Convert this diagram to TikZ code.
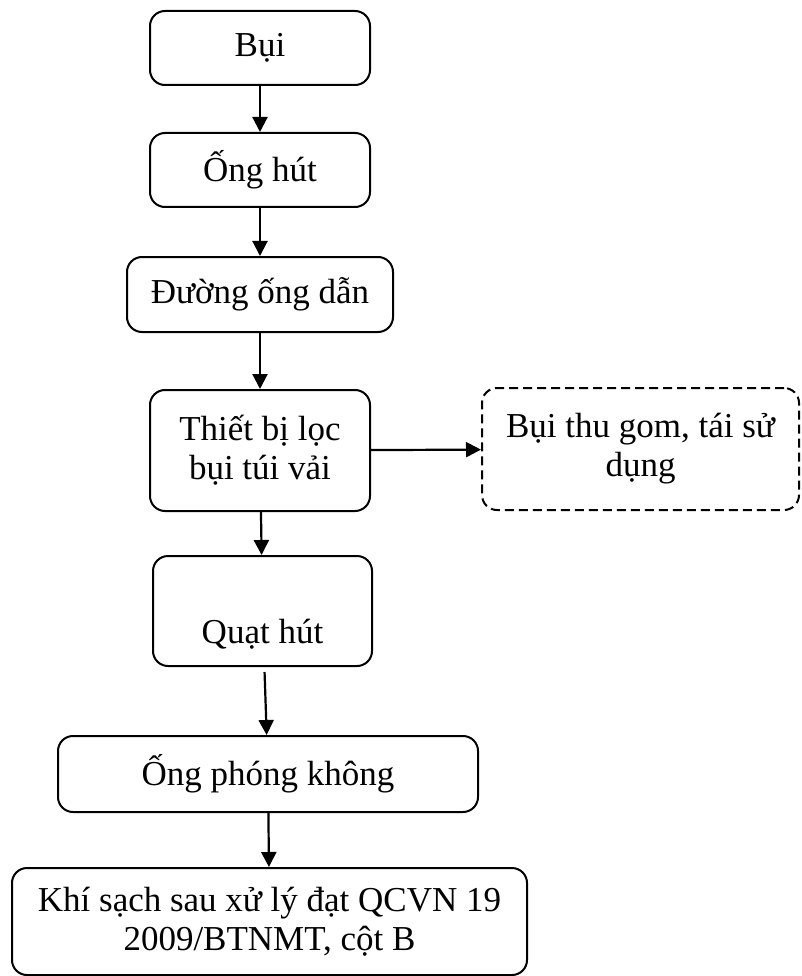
\documentclass[tikz,border=0pt]{standalone}
\usepackage{fontspec}
\setmainfont{Liberation Serif}
\usetikzlibrary{arrows.meta}

\begin{document}
\begin{tikzpicture}[x=1pt, y=-1pt,
    blk/.style={draw, line width=2pt, rounded corners=15pt, align=center, inner sep=0pt, font=\fontsize{35}{39}\selectfont},
    arr/.style={-{Triangle[length=15pt,width=15pt]}, line width=2.2pt}]
    \useasboundingbox (0,0) rectangle (801,976);

    \node (b1) at (260,48) [blk, minimum width=220, minimum height=74] {Bụi};
    \node (b2) at (260,170) [blk, minimum width=220, minimum height=74] {Ống hút};
    \node (b3) at (260,294.5) [blk, minimum width=266, minimum height=75] {Đường ống dẫn};
    \node (b4) at (260,450.5) [blk, minimum width=220, minimum height=121] {Thiết bị lọc\\bụi túi vải};
    \node (b5) at (262.5,611) [blk, minimum width=219, minimum height=110] {\raisebox{-32pt}[0pt][0pt]{Quạt hút}};
    \node (b6) at (268,774) [blk, minimum width=420, minimum height=76] {Ống phóng không};
    \node (b7) at (269.5,921.5) [blk, minimum width=515, minimum height=107] {Khí sạch sau xử lý đạt QCVN 19\\2009/BTNMT, cột B};

    \node (b8) at (640.5,449) [blk, dash pattern=on 9pt off 5pt, minimum width=317, minimum height=122] {Bụi thu gom, tái sử\\dụng};

    \draw [arr] (b1) -- (b2);
    \draw [arr] (b2) -- (b3);
    \draw [arr] (b3) -- (b4);
    \draw [arr] (b4) -- (b5);
    \draw [arr, shorten <=5pt] (b5) -- (b6);
    \draw [arr] (b6) -- (b7);
    \draw [arr] (b4) -- (b8);

\end{tikzpicture}
\end{document}
